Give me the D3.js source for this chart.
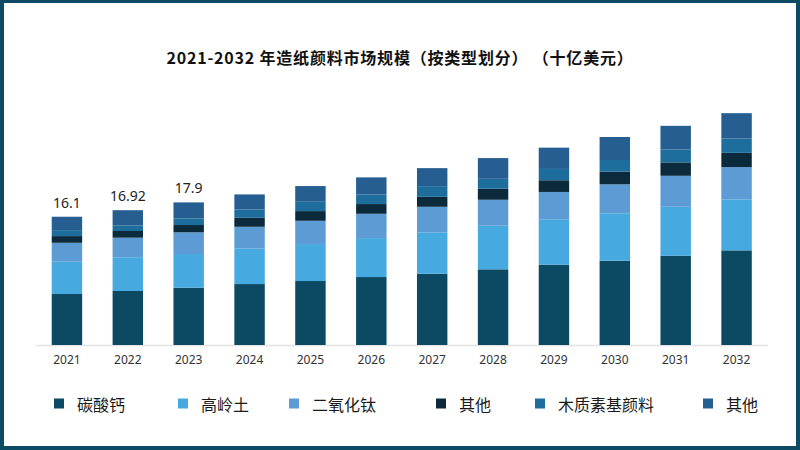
<!DOCTYPE html>
<html><head><meta charset="utf-8">
<script src="https://cdn.jsdelivr.net/npm/d3@7/dist/d3.min.js"></script>
<style>html,body{margin:0;padding:0;background:#fff;}svg{display:block;}</style>
</head><body>
<svg id="c" width="800" height="450"></svg>
<script>
const years = ["2021","2022","2023","2024","2025","2026","2027","2028","2029","2030","2031","2032"];
const caco3  = [6.40, 6.78, 7.19, 7.65, 8.03, 8.53, 8.95, 9.50, 10.08, 10.58, 11.20, 11.88];
const kaolin = [4.05, 4.23, 4.23, 4.48, 4.64, 4.89, 5.19, 5.47, 5.70, 5.95, 6.15, 6.40];
const tio2   = [2.38, 2.46, 2.72, 2.71, 2.92, 3.05, 3.21, 3.26, 3.43, 3.64, 3.89, 4.05];
const other1 = [0.84, 0.84, 0.92, 1.13, 1.22, 1.22, 1.25, 1.38, 1.47, 1.58, 1.68, 1.79];
const wood   = [0.75, 0.71, 0.84, 1.05, 1.17, 1.22, 1.34, 1.25, 1.42, 1.47, 1.63, 1.81];
const other2 = [1.68, 1.90, 2.00, 1.88, 1.97, 2.13, 2.26, 2.60, 2.67, 2.89, 2.96, 3.17];
const seriesNames = ["碳酸钙","高岭土","二氧化钛","其他","木质素基颜料","其他"];
const valueLabels = ["16.1","16.92","17.9"];
const title = "2021-2032 年造纸颜料市场规模（按类型划分） （十亿美元）";

const colors = ["#0b4a62","#46a9df","#5d9bd4","#0b2b3c","#1d6e9d","#265e91"];
const legendX = [54, 178, 289, 436, 535, 703];

const svg = d3.select("#c");
// frame
svg.append("rect").attr("x",0).attr("y",0).attr("width",800).attr("height",450).attr("fill","#0d4a63");
svg.append("rect").attr("x",4).attr("y",3).attr("width",792).attr("height",443).attr("fill","#fff");

const seriesArr = [caco3, kaolin, tio2, other1, wood, other2];
const keys = seriesArr.map((_, i) => "s" + i);
const table = years.map((yr, j) => {
  const row = {year: yr};
  seriesArr.forEach((s, i) => row["s" + i] = s[j]);
  return row;
});
const stacked = d3.stack().keys(keys)(table);

const x = d3.scaleBand().domain(years).range([36.5, 767]).paddingInner(0.5).paddingOuter(0.25);
const y = d3.scaleLinear().domain([0, 30]).range([345, 106]);

// title
svg.append("text").attr("x",400).attr("y",64).attr("text-anchor","middle")
  .attr("font-family","'Noto Sans CJK SC','Noto Sans',sans-serif").attr("font-weight",700)
  .attr("font-size",16).attr("letter-spacing",0.8).attr("fill","#111").text(title);

// baseline
svg.append("line").attr("x1",36).attr("x2",768).attr("y1",345.5).attr("y2",345.5)
  .attr("stroke","#e3e3e3").attr("stroke-width",1.5);

// bars
svg.append("g").selectAll("g").data(stacked).join("g")
  .attr("fill", (d, i) => colors[i])
  .selectAll("rect").data(d => d).join("rect")
  .attr("x", d => x(d.data.year))
  .attr("width", x.bandwidth())
  .attr("y", d => y(d[1]))
  .attr("height", d => y(d[0]) - y(d[1]));

// value labels
const topLayer = stacked[stacked.length - 1];
svg.append("g").selectAll("text").data(valueLabels).join("text")
  .attr("x", (d, i) => x(years[i]) + x.bandwidth() / 2)
  .attr("y", (d, i) => y(topLayer[i][1]) - 9)
  .attr("text-anchor","middle")
  .attr("font-family","'Noto Sans',sans-serif").attr("font-size",14).attr("fill","#222")
  .text(d => d);

// x axis
const xAxis = d3.axisBottom(x).tickSize(0).tickPadding(0);
const ax = svg.append("g").attr("transform","translate(0,355)").call(xAxis);
ax.select(".domain").remove();
ax.selectAll("text").attr("font-family","'Noto Sans',sans-serif").attr("font-size",12)
  .attr("fill","#333").attr("dy","0.71em");

// legend
const lg = svg.append("g").selectAll("g").data(seriesNames).join("g")
  .attr("transform", (d, i) => `translate(${legendX[i]},404)`);
lg.append("rect").attr("x",0).attr("y",-5.5).attr("width",10).attr("height",10)
  .attr("fill", (d, i) => colors[i]);
lg.append("text").attr("x",23).attr("y",0).attr("dominant-baseline","central")
  .attr("font-family","'Noto Sans CJK SC',sans-serif").attr("font-size",16)
  .attr("fill","#1a1a1a").text(d => d);
</script>
</body></html>
